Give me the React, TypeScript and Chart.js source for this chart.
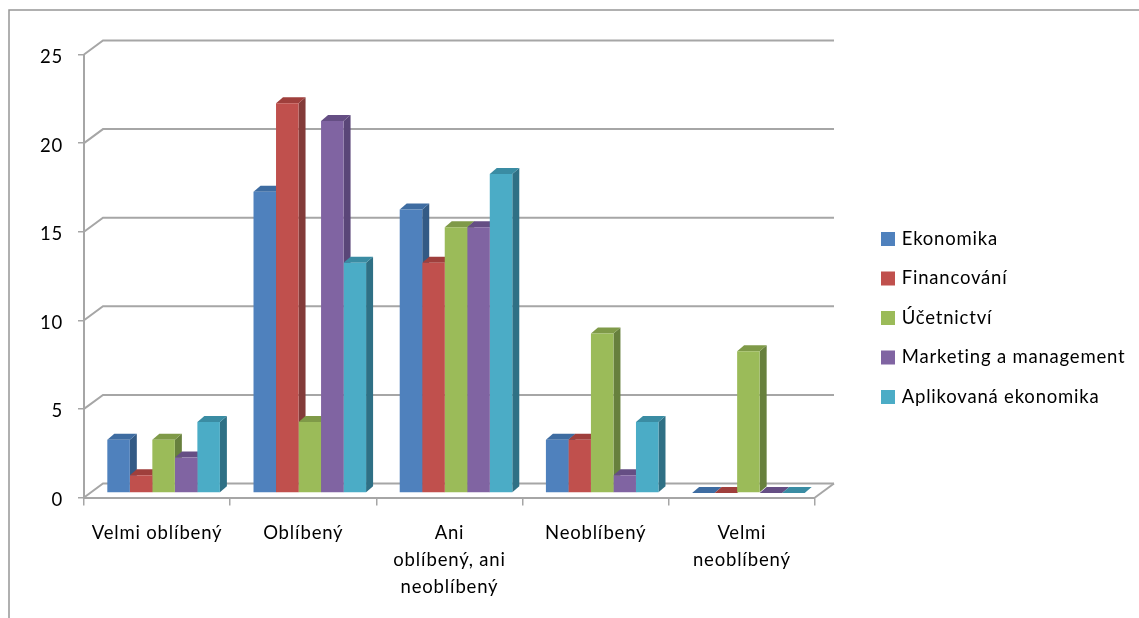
import React, { useEffect, useRef } from "react";
import { Chart, registerables } from "chart.js";

Chart.register(...registerables);

const categories = [
  "Velmi oblíbený",
  "Oblíbený",
  ["Ani", "oblíbený, ani", "neoblíbený"],
  "Neoblíbený",
  ["Velmi", "neoblíbený"],
];

const ekonomika = [3, 17, 16, 3, 0];
const financovani = [1, 22, 13, 3, 0];
const ucetnictvi = [3, 4, 15, 9, 8];
const marketing = [2, 21, 15, 1, 0];
const aplikovana = [4, 13, 18, 4, 0];

const seriesNames = ["Ekonomika", "Financování", "Účetnictví", "Marketing a management", "Aplikovaná ekonomika"];
const seriesValues = [ekonomika, financovani, ucetnictvi, marketing, aplikovana];
const frontColors = ["#4f81bd", "#c0504d", "#9bbb59", "#8064a2", "#4bacc6"];
const topColors = ["#3e6ca1", "#9f3f3c", "#7f9a48", "#654e84", "#3a8ca3"];
const sideColors = ["#335a85", "#833b39", "#67803d", "#5a4678", "#2f7085"];

const GREY = "#a6a6a6";
const FONT = "Lato";
const FONT_SIZE = 18.5;
const SPACING = "0.8px";

// Depth of the floor and walls, and of each bar.
const WALL_DX = 19;
const WALL_DY = 14;
const BAR_SHIFT_X = 6.5;
const BAR_SHIFT_Y = 4.5;
const BAR_DX = 7;
const BAR_DY = 6;

const LEGEND_PADDING = 21;

const scene = {
  id: "scene",
  beforeUpdate(chart: any) {
    chart.ctx.letterSpacing = SPACING;
  },
  afterLayout(chart: any) {
    const legend = chart.legend;
    const w = legend.width;
    legend.left = 883.5 - LEGEND_PADDING;
    legend.right = legend.left + w;
    legend.top = 208.75;
    legend.bottom = 618;
  },
  beforeDraw(chart: any) {
    const ctx = chart.ctx;
    ctx.letterSpacing = SPACING;
    // Outer frame, open towards the right and the bottom.
    ctx.save();
    ctx.strokeStyle = "#969696";
    ctx.lineWidth = 1.5;
    ctx.beginPath();
    ctx.moveTo(9, 618);
    ctx.lineTo(9, 10);
    ctx.lineTo(1139, 10);
    ctx.stroke();
    ctx.restore();
  },
  beforeDatasetsDraw(chart: any) {
    const ctx = chart.ctx;
    const { left, right } = chart.chartArea;
    const yScale = chart.scales.y;
    const bottom = yScale.getPixelForValue(0);

    // Back wall lines, one per tick, with their slanted run to the axis.
    ctx.save();
    ctx.strokeStyle = GREY;
    ctx.lineWidth = 2;
    yScale.ticks.forEach((t: any) => {
      const y = yScale.getPixelForValue(t.value);
      ctx.beginPath();
      ctx.moveTo(left, y);
      ctx.lineTo(left + WALL_DX, y - WALL_DY);
      ctx.lineTo(right + WALL_DX, y - WALL_DY);
      ctx.stroke();
    });
    // Right edge of the floor.
    ctx.beginPath();
    ctx.moveTo(right, bottom);
    ctx.lineTo(right + WALL_DX, bottom - WALL_DY);
    ctx.stroke();
    ctx.restore();

    // Top and side faces of the bars; front faces are drawn by the library over them.
    ctx.save();
    ctx.translate(BAR_SHIFT_X, -BAR_SHIFT_Y);
    chart.data.datasets.forEach((_: any, i: number) => {
      chart.getDatasetMeta(i).data.forEach((bar: any) => {
        const { x, y, base, width } = bar.getProps(["x", "y", "base", "width"], true);
        const l = x - width / 2;
        const r = x + width / 2;
        ctx.fillStyle = sideColors[i];
        ctx.beginPath();
        ctx.moveTo(r, y);
        ctx.lineTo(r + BAR_DX, y - BAR_DY);
        ctx.lineTo(r + BAR_DX, base - BAR_DY);
        ctx.lineTo(r, base);
        ctx.closePath();
        ctx.fill();
        ctx.fillStyle = topColors[i];
        ctx.beginPath();
        ctx.moveTo(l, y);
        ctx.lineTo(l + BAR_DX, y - BAR_DY);
        ctx.lineTo(r + BAR_DX, y - BAR_DY);
        ctx.lineTo(r, y);
        ctx.closePath();
        ctx.fill();
      });
    });
    ctx.restore();

    ctx.save();
    ctx.translate(BAR_SHIFT_X, -BAR_SHIFT_Y);
  },
  afterDatasetsDraw(chart: any) {
    chart.ctx.restore();
  },
};

export default function App() {
  const ref = useRef<HTMLCanvasElement>(null);

  useEffect(() => {
    const chart = new Chart(ref.current as HTMLCanvasElement, {
      type: "bar",
      data: {
        labels: categories as any,
        datasets: seriesNames.map((name, i) => ({
          label: name,
          data: seriesValues[i],
          backgroundColor: frontColors[i],
          borderWidth: 0,
          clip: false as any,
          categoryPercentage: 0.77,
          barPercentage: 1,
        })),
      },
      options: {
        animation: false,
        responsive: false,
        devicePixelRatio: 1,
        layout: { padding: { left: 0, top: 54.5, right: 54, bottom: 0 } },
        plugins: {
          tooltip: { enabled: false },
          legend: {
            position: "right",
            align: "start",
            maxWidth: 270,
            labels: {
              // A thick outline of the same colour makes the 14px swatch
              // while keeping the text close to it.
              boxWidth: 9,
              boxHeight: 9,
              padding: LEGEND_PADDING,
              color: "#000000",
              font: { family: FONT, size: FONT_SIZE },
              generateLabels(chart: any) {
                return Chart.defaults.plugins.legend.labels
                  .generateLabels(chart)
                  .map((item: any) => ({ ...item, lineWidth: 5, strokeStyle: item.fillStyle }));
              },
            },
          },
        },
        scales: {
          x: {
            afterFit(scale: any) {
              scale.height = 120.5;
            },
            grid: { drawOnChartArea: false, color: GREY, lineWidth: 1.5, tickLength: 8 },
            border: { color: GREY, width: 2 },
            ticks: {
              color: "#000000",
              padding: 14,
              maxRotation: 0,
              autoSkip: false,
              font: { family: FONT, size: FONT_SIZE, lineHeight: 1.46 },
            },
          },
          y: {
            min: 0,
            max: 25,
            afterFit(scale: any) {
              scale.width = 84;
            },
            grid: { drawOnChartArea: false, color: GREY, lineWidth: 1.5, tickLength: 6 },
            border: { color: GREY, width: 2 },
            ticks: {
              stepSize: 5,
              color: "#000000",
              padding: 15,
              labelOffset: 2.5,
              font: { family: FONT, size: FONT_SIZE },
            },
          },
        },
      },
      plugins: [scene],
    } as any);
    return () => chart.destroy();
  }, []);

  return (
    <canvas
      ref={ref}
      width={1139}
      height={618}
      style={{ position: "fixed", left: 0, top: 0, width: 1139, height: 618 }}
    />
  );
}
